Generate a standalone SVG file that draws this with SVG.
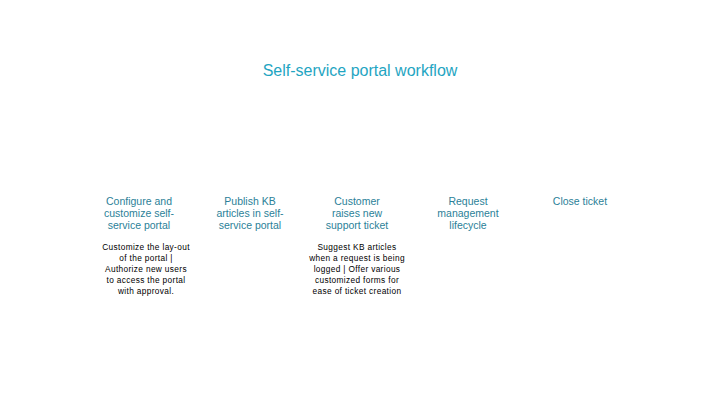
<svg xmlns="http://www.w3.org/2000/svg" width="720" height="405" viewBox="0 0 720 405">
<style>
.title{font-family:"Liberation Sans",Arial,sans-serif;font-size:16px;fill:#1fa5c2;text-anchor:middle}
.step{font-family:"Liberation Sans",Arial,sans-serif;font-size:10.5px;fill:#2b7f98;text-anchor:middle}
.desc{font-family:"Liberation Sans",Arial,sans-serif;font-size:8.3px;fill:#000;text-anchor:middle;letter-spacing:0.35px}
</style>
<rect width="720" height="405" fill="#fff"/>
<text class="title" x="360" y="76">Self-service portal workflow</text>
<g id="step1">
<text class="step" x="139" y="205">Configure and</text>
<text class="step" x="139" y="217">customize self-</text>
<text class="step" x="139" y="229">service portal</text>
<text class="desc" x="146" y="250">Customize the lay-out</text>
<text class="desc" x="146" y="261">of the portal |</text>
<text class="desc" x="146" y="272">Authorize new users</text>
<text class="desc" x="146" y="283">to access the portal</text>
<text class="desc" x="146" y="294">with approval.</text>
</g>
<g id="step2">
<text class="step" x="250" y="205">Publish KB</text>
<text class="step" x="250" y="217">articles in self-</text>
<text class="step" x="250" y="229">service portal</text>
</g>
<g id="step3">
<text class="step" x="357" y="205">Customer</text>
<text class="step" x="357" y="217">raises new</text>
<text class="step" x="357" y="229">support ticket</text>
<text class="desc" x="357" y="250">Suggest KB articles</text>
<text class="desc" x="357" y="261">when a request is being</text>
<text class="desc" x="357" y="272">logged | Offer various</text>
<text class="desc" x="357" y="283">customized forms for</text>
<text class="desc" x="357" y="294">ease of ticket creation</text>
</g>
<g id="step4">
<text class="step" x="468" y="205">Request</text>
<text class="step" x="468" y="217">management</text>
<text class="step" x="468" y="229">lifecycle</text>
</g>
<g id="step5">
<text class="step" x="580" y="205">Close ticket</text>
</g>
<g id="connectors"></g>
</svg>
